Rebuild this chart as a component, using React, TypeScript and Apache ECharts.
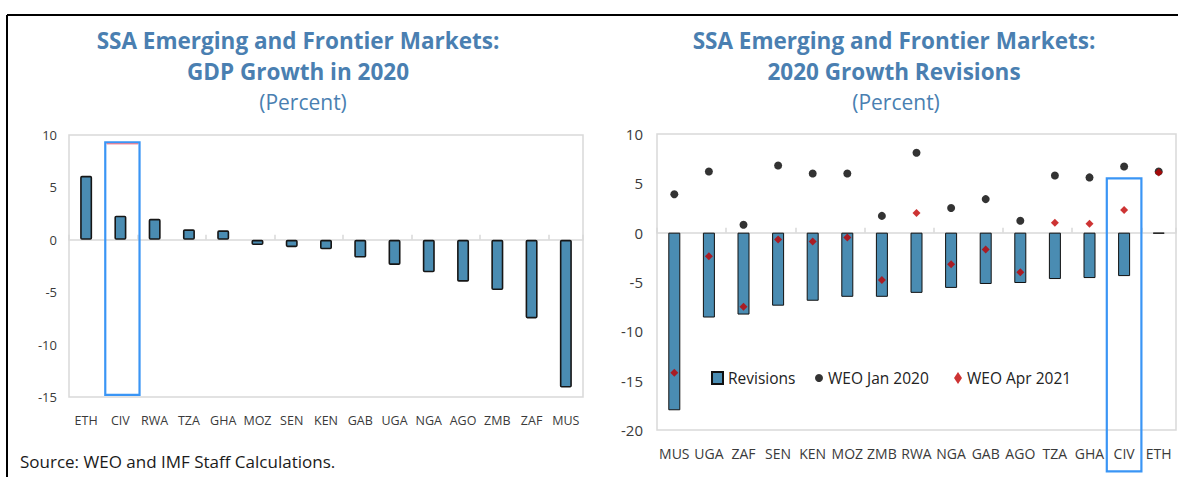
import React, { useEffect, useRef } from "react";
import * as echarts from "echarts";

// ---------- data ----------
const leftCategories = ["ETH", "CIV", "RWA", "TZA", "GHA", "MOZ", "SEN", "KEN", "GAB", "UGA", "NGA", "AGO", "ZMB", "ZAF", "MUS"];
const growth2020 = [6.1, 2.3, 2.0, 1.0, 0.9, -0.5, -0.7, -0.9, -1.7, -2.4, -3.1, -4.0, -4.8, -7.5, -14.1];

const rightCategories = ["MUS", "UGA", "ZAF", "SEN", "KEN", "MOZ", "ZMB", "RWA", "NGA", "GAB", "AGO", "TZA", "GHA", "CIV", "ETH"];
const revisions = [-18.0, -8.6, -8.3, -7.4, -6.9, -6.5, -6.5, -6.1, -5.6, -5.2, -5.1, -4.7, -4.6, -4.4, -0.1];
const weoJan2020 = [3.9, 6.2, 0.8, 6.8, 6.0, 6.0, 1.7, 8.1, 2.5, 3.4, 1.2, 5.8, 5.6, 6.7, 6.2];
const weoApr2021 = [-14.2, -2.4, -7.5, -0.7, -0.9, -0.5, -4.8, 2.0, -3.2, -1.7, -4.0, 1.0, 0.9, 2.3, 6.1];

// highlighted category box: [category, top value, bottom value]
const leftHighlight = ["CIV", 9.3, -14.8];
const rightHighlight = ["CIV", 5.5, -24.2];

const leftTitle = ["SSA Emerging and Frontier Markets:", "GDP Growth in 2020", "(Percent)"];
const rightTitle = ["SSA Emerging and Frontier Markets:", "2020 Growth Revisions", "(Percent)"];
const sourceNote = "Source: WEO and IMF Staff Calculations.";

const FONT = "Open Sans";
const TITLE_COLOR = "#4a7fb1";
const BAR_COLOR = "#4a8cb2";
const LABEL_COLOR = "#3a3a3a";

function highlightRender(redTop: boolean) {
  return (params: any, api: any) => {
    const cat = api.value(0);
    const pTop = api.coord([cat, api.value(1)]);
    const pBot = api.coord([cat, api.value(2)]);
    const w = api.size([1, 0])[0];
    const x = pTop[0] - w / 2 + (redTop ? 2 : 0);
    const children: any[] = [
      {
        type: "rect",
        shape: { x, y: pTop[1], width: w, height: pBot[1] - pTop[1] },
        style: { fill: "none", stroke: "#3a95f5", lineWidth: 2.2 },
      },
    ];
    if (redTop) {
      children.push({
        type: "line",
        shape: { x1: x + 1.5, y1: pTop[1] + 1.5, x2: x + w - 1.5, y2: pTop[1] + 1.5 },
        style: { stroke: "#f06070", lineWidth: 1 },
      });
    }
    return { type: "group", children };
  };
}

export default function App() {
  const ref = useRef<HTMLDivElement>(null);

  useEffect(() => {
    if (!ref.current) return;
    const chart = echarts.init(ref.current, undefined, { renderer: "svg" });

    const titleText = (text: string, x: number, y: number, bold: boolean) => ({
      type: "text",
      x,
      y,
      style: {
        text,
        fill: TITLE_COLOR,
        font: `${bold ? "bold " : ""}${bold ? 22.5 : 21}px "${FONT}"`,
        textAlign: "center",
        textVerticalAlign: "middle",
      },
    });

    const catAxisBase = {
      type: "category",
      boundaryGap: true,
    };

    const legendText = { fontSize: 15.5, color: "#222", fontFamily: FONT };

    const option: any = {
      animation: false,
      backgroundColor: "#ffffff",
      textStyle: { fontFamily: FONT },
      grid: [
        { left: 69, top: 135, width: 514, height: 262, show: true, borderColor: "#d9d9d9", borderWidth: 1.5, backgroundColor: "#fff" },
        { left: 657, top: 134, width: 519, height: 296, show: true, borderColor: "#d9d9d9", borderWidth: 1.5, backgroundColor: "#fff" },
      ],
      xAxis: [
        {
          ...catAxisBase,
          gridIndex: 0,
          data: leftCategories,
          position: "bottom",
          axisLine: { show: false, onZero: false },
          axisTick: { show: false },
          axisLabel: { color: LABEL_COLOR, fontSize: 12.5, margin: 17, interval: 0, fontFamily: FONT },
        },
        {
          ...catAxisBase,
          gridIndex: 0,
          data: leftCategories,
          position: "bottom",
          axisLine: { show: true, onZero: true, lineStyle: { color: "#d9d9d9", width: 1.5 } },
          axisTick: { show: true, inside: true, length: 5, lineStyle: { color: "#d9d9d9", width: 1.5 } },
          axisLabel: { show: false },
        },
        {
          ...catAxisBase,
          gridIndex: 1,
          data: rightCategories,
          position: "bottom",
          axisLine: { show: false, onZero: false },
          axisTick: { show: false },
          axisLabel: { color: LABEL_COLOR, fontSize: 14, margin: 16, interval: 0, fontFamily: FONT },
        },
        {
          ...catAxisBase,
          gridIndex: 1,
          data: rightCategories,
          position: "bottom",
          axisLine: { show: true, onZero: true, lineStyle: { color: "#d9d9d9", width: 1.5 } },
          axisTick: { show: true, inside: true, length: 5, lineStyle: { color: "#d9d9d9", width: 1.5 } },
          axisLabel: { show: false },
        },
      ],
      yAxis: [
        {
          type: "value",
          gridIndex: 0,
          min: -15,
          max: 10,
          interval: 5,
          axisLine: { show: false },
          axisTick: { show: false },
          splitLine: { show: false },
          axisLabel: { color: LABEL_COLOR, fontSize: 13, margin: 12, fontFamily: FONT },
        },
        {
          type: "value",
          gridIndex: 1,
          min: -20,
          max: 10,
          interval: 5,
          axisLine: { show: false },
          axisTick: { show: false },
          splitLine: { show: false },
          axisLabel: { color: LABEL_COLOR, fontSize: 15, margin: 14, fontFamily: FONT },
        },
      ],
      legend: [
        {
          data: ["Revisions"],
          left: 711,
          top: 370,
          padding: 0,
          icon: "rect",
          itemWidth: 11,
          itemHeight: 12,
          textStyle: legendText,
        },
        {
          data: ["WEO Jan 2020"],
          left: 815,
          top: 370,
          padding: 0,
          icon: "circle",
          itemWidth: 8,
          itemHeight: 12,
          textStyle: legendText,
        },
        {
          data: ["WEO Apr 2021"],
          left: 954,
          top: 370,
          padding: 0,
          icon: "diamond",
          itemWidth: 8,
          itemHeight: 12,
          textStyle: legendText,
        },
      ],
      series: [
        {
          type: "bar",
          name: "GDP Growth 2020",
          xAxisIndex: 0,
          yAxisIndex: 0,
          data: growth2020,
          barWidth: 12,
          itemStyle: { color: BAR_COLOR, borderColor: "#161616", borderWidth: 1.6, borderRadius: 1 },
        },
        {
          type: "custom",
          name: "leftHighlight",
          xAxisIndex: 0,
          yAxisIndex: 0,
          clip: false,
          z: 10,
          silent: true,
          renderItem: highlightRender(true),
          data: [leftHighlight],
        },
        {
          type: "bar",
          name: "Revisions",
          xAxisIndex: 2,
          yAxisIndex: 1,
          data: revisions,
          barWidth: 12,
          itemStyle: { color: BAR_COLOR, borderColor: "#111", borderWidth: 1 },
        },
        {
          type: "scatter",
          name: "WEO Jan 2020",
          xAxisIndex: 2,
          yAxisIndex: 1,
          data: weoJan2020,
          symbol: "circle",
          symbolSize: 8,
          itemStyle: { color: "#000" },
          z: 3,
        },
        {
          type: "scatter",
          name: "WEO Apr 2021",
          xAxisIndex: 2,
          yAxisIndex: 1,
          data: weoApr2021,
          symbol: "diamond",
          symbolSize: 8,
          itemStyle: { color: "#c00000" },
          z: 4,
        },
        {
          type: "custom",
          name: "rightHighlight",
          xAxisIndex: 2,
          yAxisIndex: 1,
          clip: false,
          z: 10,
          silent: true,
          renderItem: highlightRender(false),
          data: [rightHighlight],
        },
      ],
      graphic: [
        { type: "line", shape: { x1: 7, y1: 15, x2: 1178, y2: 15 }, style: { stroke: "#000", lineWidth: 2 } },
        { type: "line", shape: { x1: 7, y1: 15, x2: 7, y2: 477 }, style: { stroke: "#000", lineWidth: 2 } },
        titleText(leftTitle[0], 298, 40, true),
        titleText(leftTitle[1], 298, 71, true),
        titleText(leftTitle[2], 303, 102, false),
        titleText(rightTitle[0], 894, 40, true),
        titleText(rightTitle[1], 894, 71, true),
        titleText(rightTitle[2], 896, 102, false),
        {
          type: "text",
          x: 20,
          y: 461,
          style: {
            text: sourceNote,
            fill: "#1a1a1a",
            font: `17px "${FONT}"`,
            textAlign: "left",
            textVerticalAlign: "middle",
          },
        },
      ],
    };

    chart.setOption(option);
    return () => chart.dispose();
  }, []);

  return (
    <div
      ref={ref}
      style={{ position: "absolute", left: 0, top: 0, width: 1178, height: 477 }}
    />
  );
}
